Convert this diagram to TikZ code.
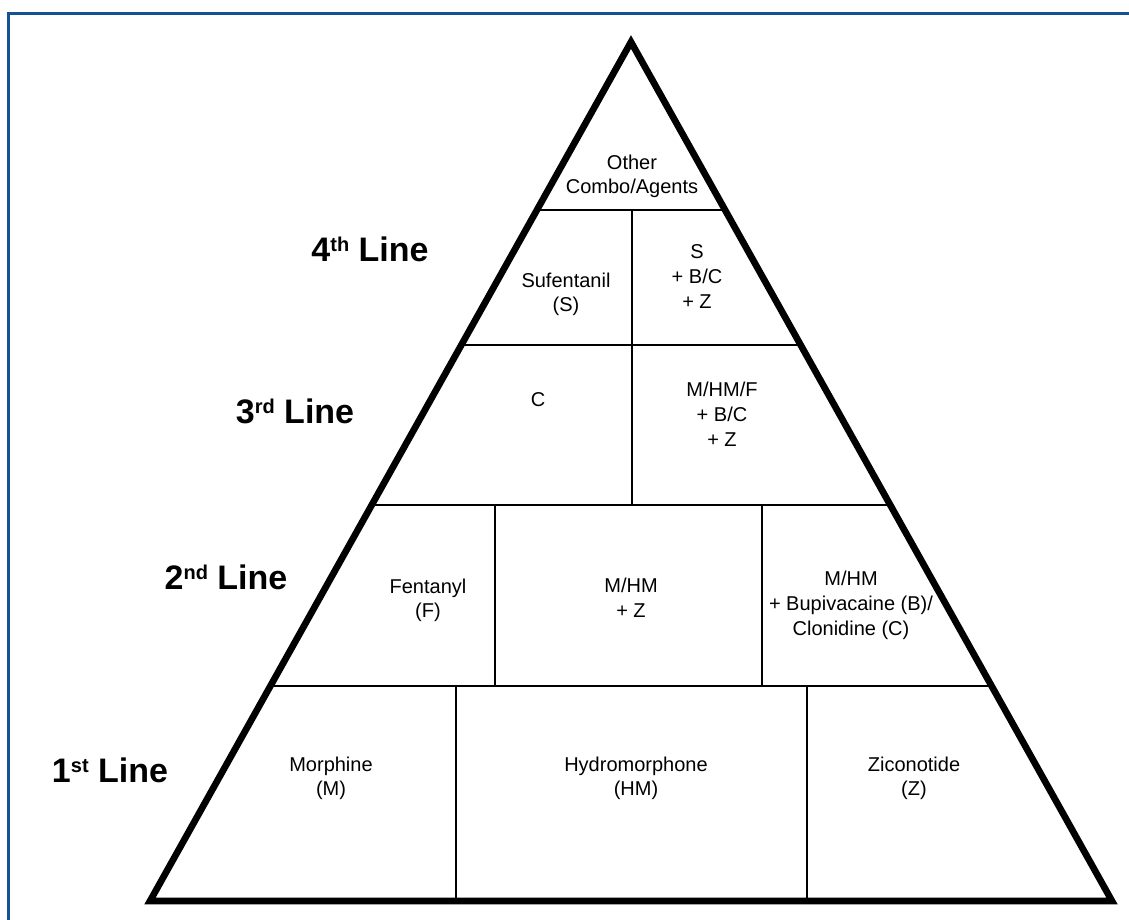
\documentclass[tikz,border=0pt]{standalone}
\usepackage{fontspec}
\setmainfont{Liberation Sans}
\usetikzlibrary{calc}
\definecolor{framecol}{RGB}{20,82,145}
\newcommand\cellfont{\fontsize{15}{18.4}\selectfont}
\newcommand\lvlfont{\fontsize{25.5}{30}\selectfont\bfseries}
\newcommand\sups[1]{\raisebox{7.5pt}{\fontsize{15}{15}\selectfont\bfseries #1}}
\begin{document}
\begin{tikzpicture}[x=0.75pt,y=-0.75pt,
  cell/.style={font=\cellfont, align=center, inner sep=0pt},
  lvl/.style={font=\lvlfont, inner sep=0pt, anchor=base},
  rim/.style={line width=5pt, line join=miter, miter limit=20},
  divider/.style={line width=1.9pt},
  frameline/.style={draw=framecol, line width=2.6pt}]
\useasboundingbox (0,0) rectangle (1129,920);
\begin{scope}
  \clip (0,0) rectangle (1129,920);
  \draw[frameline] (8.5,13.5) rectangle (1300,1100);
\end{scope}
% triangle corners
\coordinate (apex) at (631,42);
\coordinate (bl) at (150,901);
\coordinate (br) at (1112,901);
% row boundaries
\coordinate (l4) at ($(apex)!0.1956!(bl)$);
\coordinate (r4) at ($(apex)!0.1956!(br)$);
\coordinate (l3) at ($(apex)!0.3527!(bl)$);
\coordinate (r3) at ($(apex)!0.3527!(br)$);
\coordinate (l2) at ($(apex)!0.5390!(bl)$);
\coordinate (r2) at ($(apex)!0.5390!(br)$);
\coordinate (l1) at ($(apex)!0.7497!(bl)$);
\coordinate (r1) at ($(apex)!0.7497!(br)$);
\draw[divider] (l4) -- (r4);
\draw[divider] (l3) -- (r3);
\draw[divider] (l2) -- (r2);
\draw[divider] (l1) -- (r1);
% vertical dividers
\draw[divider] (632,210) -- (632,345);
\draw[divider] (632,345) -- (632,505);
\draw[divider] (495,505) -- (495,686);
\draw[divider] (762,505) -- (762,686);
\draw[divider] (456,686) -- (456,901);
\draw[divider] (807,686) -- (807,901);
% outline
\draw[rim] (apex) -- (bl) -- (br) -- cycle;
% cell texts
\node[cell] (other) at (632,176.6) {\strut Other\\\strut Combo/Agents};
\node[cell] (sufe) at (566,294.6) {\strut Sufentanil\\\strut (S)};
\node[cell] (sbcz) at (697,278.6) {\strut S\\+ B/C\\\strut + Z};
\node[cell, anchor=base] (clon) at (538,406) {C};
\node[cell] (mhmf) at (722,416.6) {\strut M/HM/F\\+ B/C\\\strut + Z};
\node[cell] (fent) at (428,600.6) {\strut Fentanyl\\\strut (F)};
\node[cell] (mhmz) at (631,600) {\strut M/HM\\\strut + Z};
\node[cell] (mhmb) at (851,605.6) {\strut M/HM\\+ Bupivacaine (B)/\\\strut Clonidine (C)};
\node[cell] (morph) at (331,778.6) {\strut Morphine\\\strut (M)};
\node[cell] (hydro) at (636,778.6) {\strut Hydromorphone\\\strut (HM)};
\node[cell] (zico) at (914,778.6) {\strut Ziconotide\\\strut (Z)};
% level labels
\node[lvl] (lv4) at (370,262) {4\sups{th} Line};
\node[lvl] (lv3) at (295,423) {3\sups{rd} Line};
\node[lvl] (lv2) at (226,589) {2\sups{nd} Line};
\node[lvl] (lv1) at (110,782) {1\sups{st} Line};
\end{tikzpicture}
\end{document}
